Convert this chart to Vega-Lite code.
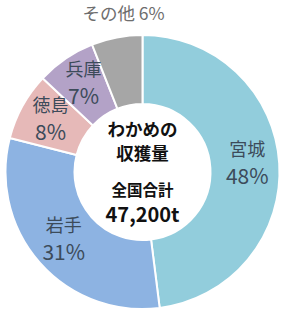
{
  "$schema": "https://vega.github.io/schema/vega-lite/v6.json",
  "width": 275,
  "height": 276,
  "padding": {"left": 5, "top": 34, "right": 5, "bottom": 0},
  "autosize": "none",
  "background": "white",
  "config": {"view": {"stroke": null}},
  "data": {
    "values": [
      {"name": "宮城", "value": 48, "pct": "48%", "order": 1},
      {"name": "岩手", "value": 31, "pct": "31%", "order": 2},
      {"name": "徳島", "value": 8, "pct": "8%", "order": 3},
      {"name": "兵庫", "value": 7, "pct": "7%", "order": 4},
      {"name": "その他", "value": 6, "pct": "6%", "order": 5}
    ]
  },
  "encoding": {
    "theta": {"field": "value", "type": "quantitative", "stack": true},
    "order": {"field": "order", "type": "quantitative"}
  },
  "layer": [
    {
      "mark": {"type": "arc", "outerRadius": 137, "innerRadius": 68, "stroke": "white", "strokeWidth": 2},
      "encoding": {
        "color": {
          "field": "name", "type": "nominal", "legend": null,
          "scale": {"domain": ["宮城", "岩手", "徳島", "兵庫", "その他"], "range": ["#92CDDC", "#8DB3E2", "#E6B9B8", "#B3A2C7", "#A6A6A6"]}
        }
      }
    },
    {
      "mark": {"type": "text", "radius": 105, "dy": -14, "font": "Noto Sans CJK JP", "fontSize": 18, "color": "#3C4B5A"},
      "encoding": {
        "text": {"condition": {"test": "datum.name === 'その他'", "value": ""}, "field": "name", "type": "nominal"}
      }
    },
    {
      "mark": {"type": "text", "radius": 105, "dy": 13, "font": "Noto Sans CJK JP", "fontSize": 21, "color": "#3C4B5A"},
      "encoding": {
        "text": {"condition": {"test": "datum.name === 'その他'", "value": ""}, "field": "pct", "type": "nominal"}
      }
    },
    {
      "mark": {"type": "text", "radius": 160, "dx": 11, "dy": 0, "font": "Noto Sans CJK JP", "fontSize": 17.5, "color": "#6E6E6E"},
      "encoding": {
        "text": {"condition": {"test": "datum.name !== 'その他'", "value": ""}, "value": "その他 6%"}
      }
    },
    {
      "data": {"values": [{"t": "わかめの"}]},
      "mark": {"type": "text", "dy": -41, "font": "Noto Sans CJK JP", "fontSize": 17.5, "fontWeight": "bold", "color": "#111"},
      "encoding": {"text": {"field": "t"}, "theta": null, "order": null}
    },
    {
      "data": {"values": [{"t": "収獲量"}]},
      "mark": {"type": "text", "dy": -17, "font": "Noto Sans CJK JP", "fontSize": 17.5, "fontWeight": "bold", "color": "#111"},
      "encoding": {"text": {"field": "t"}, "theta": null, "order": null}
    },
    {
      "data": {"values": [{"t": "全国合計"}]},
      "mark": {"type": "text", "dy": 19, "font": "Noto Sans CJK JP", "fontSize": 15.5, "fontWeight": "bold", "color": "#111"},
      "encoding": {"text": {"field": "t"}, "theta": null, "order": null}
    },
    {
      "data": {"values": [{"t": "47,200t"}]},
      "mark": {"type": "text", "dy": 44, "font": "Noto Sans CJK JP", "fontSize": 20, "fontWeight": "bold", "color": "#111"},
      "encoding": {"text": {"field": "t"}, "theta": null, "order": null}
    }
  ]
}
